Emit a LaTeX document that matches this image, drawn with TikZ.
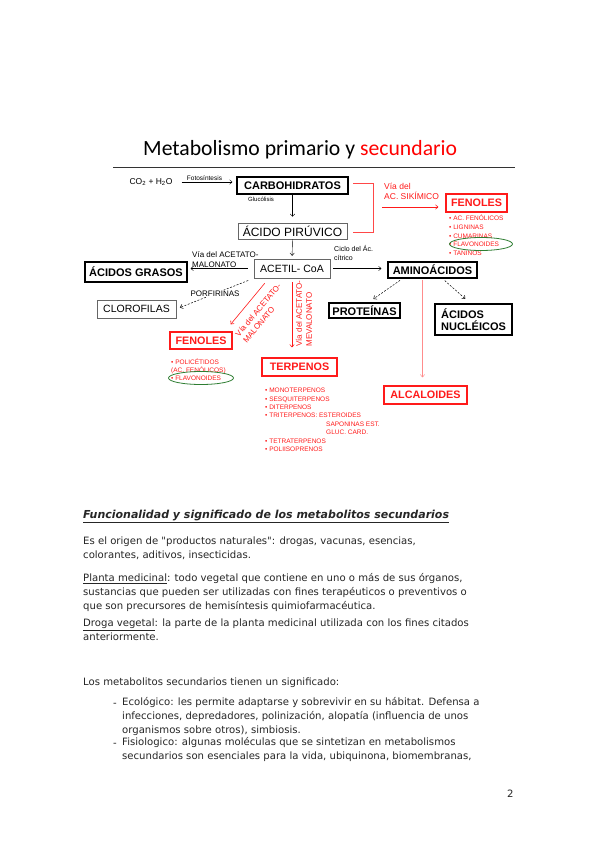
\documentclass[tikz,border=0pt]{standalone}
\usepackage{fontspec}
\setmainfont{Liberation Sans}
\newfontfamily\bodyfont{DejaVu Sans}
\newfontfamily\titlefont{Carlito}
\usepackage{tikz}
\usetikzlibrary{arrows.meta, positioning, shapes.geometric}
\usepackage{xcolor}
\definecolor{pathred}{HTML}{FF1A1A}
\definecolor{flavgreen}{HTML}{2E7D32}

\begin{document}
\begin{tikzpicture}[
  x=1pt, y=-1pt,
  metab/.style={draw=black, line width=1.2pt, inner sep=0pt,
    font=\fontsize{11}{12.5}\selectfont\bfseries},
  inter/.style={draw=black!60, line width=0.5pt, inner sep=0pt,
    font=\fontsize{10.5}{12}\selectfont},
  secbox/.style={draw=pathred, line width=1.2pt, inner sep=0pt, text=pathred,
    font=\fontsize{10.8}{12}\selectfont\bfseries},
  route/.style={inner sep=0pt, align=left, font=\fontsize{8}{10}\selectfont},
  redroute/.style={route, text=pathred},
  sublist/.style={text=pathred, inner sep=0pt, align=left, anchor=north west,
    font=\fontsize{6.5}{8.6}\selectfont},
  flav/.style={draw=flavgreen, line width=0.8pt, ellipse, inner sep=0pt,
    minimum width=63pt, minimum height=13pt},
  redarrow/.style={->, pathred, line width=0.6pt},
  porf/.style={->, dash pattern=on 2pt off 1.5pt, line width=0.5pt},
  body/.style={anchor=base west, inner sep=0pt, align=left, text=black!85,
    font=\bodyfont\fontsize{10.1}{13.6}\selectfont},
  >={Straight Barb[length=2.5pt,width=4.5pt]}
]
  \useasboundingbox[fill=white] (0,0) rectangle (599,848);

  % Title
  \node[anchor=base west, inner sep=0pt,
    font=\titlefont\fontsize{21.7}{26}\selectfont] (title) at (143,155)
    {Metabolismo primario y \textcolor{red}{secundario}};
  \draw[line width=0.8pt, black!80] (113,167) -- (515,167);

  % Primary metabolism
  \node[inner sep=0pt, font=\fontsize{8.5}{10}\selectfont] (co2) at (151,182)
    {CO\textsubscript{2} + H\textsubscript{2}O};
  \node[metab, minimum width=111pt, minimum height=17pt] (carb) at (292.5,185.5) {CARBOHIDRATOS};
  \node[inter, minimum width=109pt, minimum height=16pt, font=\fontsize{12}{13}\selectfont] (piru)
    at (292.5,231) {ÁCIDO PIRÚVICO};
  \node[inter, minimum width=76pt, minimum height=19pt] (acetil) at (292,268.5) {ACETIL- CoA};
  \node[metab, minimum width=102pt, minimum height=20pt] (grasos) at (136,272) {ÁCIDOS GRASOS};
  \node[inter, minimum width=79pt, minimum height=18pt] (cloro) at (136.5,309) {CLOROFILAS};
  \node[metab, minimum width=89pt, minimum height=16pt] (amino) at (432.5,270) {AMINOÁCIDOS};
  \node[metab, minimum width=71pt, minimum height=15pt] (prot) at (364.5,310.5) {PROTEÍNAS};
  \node[metab, minimum width=77pt, minimum height=31pt, align=left] (nucl) at (473.5,319.5)
    {ÁCIDOS\\NUCLÉICOS};

  \draw[->, shorten <=9pt, shorten >=4pt] (co2.east) -- (co2.east -| carb.west)
    node[midway, above=1.5pt, inner sep=0pt, font=\fontsize{6.5}{8}\selectfont] (fotos) {Fotosíntesis};
  \draw[->, shorten >=6pt] (carb.south) -- (piru.north);
  \node[inner sep=0pt, font=\fontsize{6}{7}\selectfont] (gluco) at (261,199) {Glucólisis};
  \draw[->, shorten >=3pt] (piru.south) -- (acetil.north);

  \draw[->, shorten <=6pt, shorten >=3pt] (acetil.west) -- (acetil.west -| grasos.east);
  \node[route, anchor=north west] (malon) at (192,251) {Vía del ACETATO-\\MALONATO};
  \draw[porf, shorten <=6pt, shorten >=4pt] (acetil.south west) -- (cloro.east)
    node[midway, fill=white, inner sep=0.5pt, font=\fontsize{8}{10}\selectfont] (porfir) {PORFIRINAS};
  \draw[->, shorten <=3pt, shorten >=6pt] (acetil.east) -- (acetil.east -| amino.west);
  \node[route, anchor=north west, font=\fontsize{7}{9.5}\selectfont] (ciclo) at (334,245)
    {Ciclo del Ác.\\cítrico};
  \draw[porf, shorten <=3pt, shorten >=6pt] ([xshift=-30pt]amino.south) -- ([xshift=4pt]prot.north);
  \draw[porf, shorten <=3pt, shorten >=7pt] ([xshift=10pt]amino.south) -- ([xshift=-3pt]nucl.north);

  % Secondary metabolism
  \node[secbox, minimum width=61pt, minimum height=18pt] (fen1) at (476.5,203) {FENOLES};
  \node[secbox, minimum width=62pt, minimum height=17pt] (fen2) at (201,340.5) {FENOLES};
  \node[secbox, minimum width=75pt, minimum height=18pt] (terp) at (299.5,367) {TERPENOS};
  \node[secbox, minimum width=83pt, minimum height=18pt] (alca) at (425.5,395) {ALCALOIDES};

  \node[sublist] (fen1list) at (449,215)
    {• AC. FENÓLICOS\\• LIGNINAS\\• CUMARINAS\\• FLAVONOIDES\\• TANINOS};
  \node[sublist, font=\fontsize{6.5}{8}\selectfont] (fen2list) at (171,359)
    {• POLICÉTIDOS\\(AC. FENÓLICOS)\\• FLAVONOIDES};
  \node[sublist, font=\fontsize{6.5}{8.4}\selectfont] (terplist) at (265,388)
    {• MONOTERPENOS\\• SESQUITERPENOS\\• DITERPENOS\\• TRITERPENOS: ESTEROIDES\\
     \hspace*{61pt}SAPONINAS EST.\\\hspace*{61pt}GLUC. CARD.\\• TETRATERPENOS\\• POLIISOPRENOS};
  \node[flav] (flav1) at (481,244) {};
  \node[flav, minimum width=65pt] (flav2) at (201,378) {};

  \draw[pathred!80, line width=0.6pt] (353,183) -- (373,183) -- (373,232) -- (353,232);
  \coordinate (sikim) at (382,207);
  \draw[redarrow, shorten >=7pt] (sikim) -- (sikim -| fen1.west);
  \node[redroute, anchor=north west, font=\fontsize{8.5}{10.5}\selectfont] (sikimlab) at (384,183)
    {Vía del\\AC. SIKÍMICO};

  \draw[redarrow] ([xshift=11pt,yshift=-5pt]acetil.south west) -- ([xshift=-2pt,yshift=7pt]fen2.north east);
  \node[redroute, rotate=50] (acmal) at (262,313) {Vía del ACETATO-\\MALONATO};
  \draw[redarrow, shorten <=4pt, shorten >=10pt] (acetil.south) -- (acetil.south |- terp.north);
  \node[redroute, rotate=90] (acmev) at (304,313.5) {Vía del ACETATO-\\MEVALONATO};
  \draw[->, red!45, line width=0.5pt, shorten <=1pt, shorten >=8pt]
    ([xshift=-10pt]amino.south) -- ([xshift=-10pt]amino.south |- alca.north);

  % Text below the diagram (base = last line)
  \node[body, font=\bodyfont\fontsize{11}{13.5}\selectfont\bfseries\itshape] (fhead) at (83,518)
    {\underline{Funcionalidad y significado de los metabolitos secundarios}};
  \node[body] (origen) at (83,558)
    {Es el origen de "productos naturales": drogas, vacunas, esencias,\\colorantes, aditivos, insecticidas.};
  \node[body] (planta) at (83,609)
    {\underline{Planta medicinal}: todo vegetal que contiene en uno o más de sus órganos,\\
     sustancias que pueden ser utilizadas con fines terapéuticos o preventivos o\\
     que son precursores de hemisíntesis quimiofarmacéutica.};
  \node[body] (droga) at (83,640)
    {\underline{Droga vegetal}: la parte de la planta medicinal utilizada con los fines citados\\anteriormente.};
  \node[body] (signif) at (83,685) {Los metabolitos secundarios tienen un significado:};
  \node[body] (dash1) at (113,706) {-};
  \node[body] (ecolo) at (122,733)
    {Ecológico: les permite adaptarse y sobrevivir en su hábitat. Defensa a\\
     infecciones, depredadores, polinización, alopatía (influencia de unos\\
     organismos sobre otros), simbiosis.};
  \node[body] (dash2) at (113,746) {-};
  \node[body] (fisio) at (122,759)
    {Fisiologico: algunas moléculas que se sintetizan en metabolismos\\
     secundarios son esenciales para la vida, ubiquinona, biomembranas,};
  \node[body] (pagenum) at (507,797) {2};
\end{tikzpicture}
\end{document}
